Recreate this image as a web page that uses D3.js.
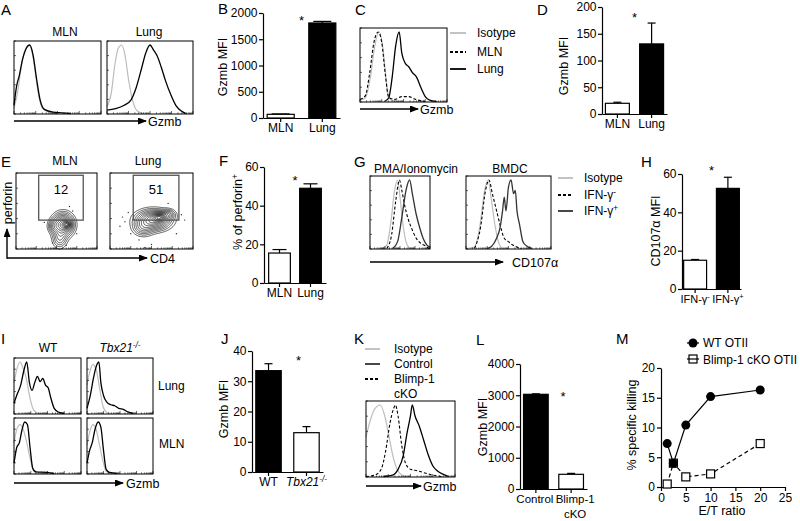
<!DOCTYPE html>
<html><head><meta charset="utf-8">
<script src="https://cdn.jsdelivr.net/npm/d3@7"></script>
<style>
body{margin:0;background:#fff}
svg{display:block}
text{font-family:"Liberation Sans",Arial,Helvetica,sans-serif;fill:#000}
</style>
</head><body>
<svg id="fig" width="800" height="521"></svg>
<script>
// ================= DATA =================
// Histograms: [x = fraction along log axis, y = fraction of peak count]
const aMLNIso    = [[0,0.08],[0.04,0.3],[0.08,0.65],[0.12,0.9],[0.17,1],[0.21,0.88],[0.25,0.55],[0.29,0.22],[0.33,0.07],[0.4,0.02],[0.5,0]];
const aMLNSample = [[0,0.12],[0.03,0.4],[0.06,0.55],[0.1,0.8],[0.14,0.95],[0.18,1],[0.22,0.85],[0.26,0.5],[0.3,0.2],[0.35,0.06],[0.45,0.02],[0.55,0.01],[0.65,0]];
const aLungIso   = [[0,0.1],[0.05,0.3],[0.09,0.7],[0.13,0.95],[0.17,1],[0.21,0.85],[0.25,0.5],[0.3,0.18],[0.35,0.04],[0.42,0]];
const aLungSample= [[0,0.05],[0.1,0.07],[0.2,0.12],[0.28,0.2],[0.34,0.38],[0.4,0.65],[0.45,0.88],[0.5,1],[0.54,0.93],[0.58,0.85],[0.63,0.68],[0.68,0.48],[0.74,0.28],[0.8,0.12],[0.86,0.04],[0.92,0]];

const cIso  = [[0,0.02],[0.06,0.05],[0.12,0.35],[0.17,0.8],[0.22,1],[0.26,0.8],[0.29,0.45],[0.32,0.12],[0.36,0.02],[0.45,0]];
const cMLN  = [[0,0.03],[0.06,0.08],[0.11,0.4],[0.16,0.85],[0.21,1],[0.25,0.85],[0.29,0.4],[0.33,0.06],[0.4,0.03],[0.48,0.07],[0.56,0.07],[0.64,0.03],[0.75,0]];
const cLung = [[0.28,0],[0.33,0.05],[0.37,0.35],[0.41,0.8],[0.45,1],[0.48,0.7],[0.52,0.55],[0.56,0.5],[0.6,0.42],[0.65,0.35],[0.7,0.2],[0.75,0.07],[0.8,0.02],[0.88,0]];

const gPMAIso = [[0.2,0],[0.28,0.05],[0.35,0.4],[0.41,0.85],[0.46,1],[0.5,0.75],[0.55,0.35],[0.6,0.1],[0.66,0]];
const gPMANeg = [[0.28,0],[0.36,0.2],[0.43,0.7],[0.49,1],[0.53,0.85],[0.58,0.62],[0.64,0.42],[0.7,0.28],[0.77,0.15],[0.84,0.08],[0.92,0.04],[0.98,0]];
const gPMAPos = [[0.38,0],[0.46,0.1],[0.53,0.45],[0.6,0.85],[0.66,1],[0.71,0.78],[0.77,0.5],[0.83,0.3],[0.89,0.14],[0.95,0.05],[1,0.02]];
const gDCIso  = [[0,0],[0.1,0.02],[0.16,0.3],[0.22,0.85],[0.26,1],[0.3,0.7],[0.34,0.35],[0.38,0.1],[0.42,0]];
const gDCNeg  = [[0.1,0],[0.17,0.3],[0.23,0.85],[0.27,1],[0.31,0.8],[0.36,0.55],[0.4,0.35],[0.45,0.15],[0.5,0.1],[0.55,0.05],[0.6,0.02],[0.65,0]];
const gDCPos  = [[0.25,0],[0.3,0.03],[0.36,0.15],[0.4,0.3],[0.43,0.55],[0.45,0.75],[0.47,0.55],[0.5,0.9],[0.53,1],[0.56,0.8],[0.58,0.85],[0.6,0.55],[0.63,0.35],[0.67,0.1],[0.72,0.03],[0.78,0]];

const iWTLungIso  = [[0,0.6],[0.04,0.85],[0.09,1],[0.13,0.9],[0.18,0.7],[0.23,0.35],[0.28,0.1],[0.33,0.02],[0.4,0]];
const iWTLung     = [[0,0.2],[0.04,0.35],[0.1,0.55],[0.15,0.85],[0.19,1],[0.23,0.6],[0.27,0.45],[0.31,0.6],[0.35,0.72],[0.39,0.62],[0.43,0.68],[0.47,0.55],[0.51,0.5],[0.55,0.3],[0.6,0.1],[0.66,0.03],[0.75,0]];
const iKOLungIso  = [[0,0.55],[0.04,0.8],[0.09,0.95],[0.14,0.85],[0.19,0.5],[0.24,0.15],[0.3,0.02],[0.35,0]];
const iKOLung     = [[0,0.1],[0.05,0.35],[0.1,0.7],[0.15,0.95],[0.18,1],[0.21,0.6],[0.25,0.35],[0.3,0.22],[0.36,0.17],[0.42,0.15],[0.48,0.1],[0.55,0.08],[0.62,0.03],[0.7,0]];
const iWTMLNIso   = [[0,0.6],[0.04,0.85],[0.09,0.95],[0.14,0.85],[0.19,0.6],[0.24,0.3],[0.29,0.05],[0.35,0]];
const iWTMLN      = [[0,0.2],[0.04,0.5],[0.08,0.6],[0.12,0.85],[0.16,1],[0.2,0.95],[0.24,0.5],[0.28,0.1],[0.33,0.03],[0.5,0.02],[0.55,0.01],[0.6,0]];
const iKOMLNIso   = [[0,0.55],[0.04,0.8],[0.09,0.95],[0.14,0.85],[0.19,0.55],[0.24,0.25],[0.29,0.04],[0.35,0]];
const iKOMLN      = [[0,0.2],[0.04,0.45],[0.08,0.6],[0.12,0.85],[0.17,1],[0.21,0.9],[0.25,0.45],[0.29,0.08],[0.34,0.02],[0.45,0]];

const kIso     = [[0,0.55],[0.04,0.75],[0.1,0.95],[0.16,1],[0.21,0.85],[0.26,0.55],[0.3,0.3],[0.35,0.1],[0.4,0.02],[0.45,0]];
const kBlimp   = [[0,0],[0.1,0.02],[0.17,0.1],[0.22,0.35],[0.27,0.75],[0.31,0.95],[0.33,1],[0.36,0.85],[0.4,0.45],[0.44,0.2],[0.5,0.1],[0.58,0.08],[0.66,0.05],[0.75,0.02],[0.85,0]];
const kControl = [[0.2,0],[0.3,0.02],[0.36,0.1],[0.42,0.3],[0.46,0.6],[0.5,0.85],[0.52,1],[0.55,0.85],[0.6,0.7],[0.65,0.5],[0.7,0.3],[0.75,0.15],[0.8,0.08],[0.87,0.03],[0.93,0]];

// Contour plot density components [cx, cy, sx, sy, weight] (fractions, y from bottom)
const eMLNComps  = [[0.58,0.32,0.07,0.08,1.0],[0.54,0.14,0.05,0.07,0.3],[0.63,0.32,0.03,0.03,0.7],[0.47,0.3,0.04,0.05,0.25]];
const eLungComps = [[0.52,0.38,0.11,0.07,1.0],[0.6,0.42,0.05,0.035,0.8],[0.4,0.28,0.07,0.06,0.3],[0.7,0.45,0.05,0.04,0.3]];
const eMLNDots   = [[0.7,0.5],[0.66,0.56],[0.45,0.08],[0.62,0.05],[0.35,0.35],[0.75,0.2]];
const eLungDots  = [[0.15,0.42],[0.18,0.36],[0.12,0.3],[0.22,0.48],[0.86,0.45],[0.9,0.38],[0.5,0.06],[0.42,0.02],[0.35,0.12],[0.8,0.2],[0.25,0.2],[0.7,0.6]];
const eGate = [0.28, 0.83, 0.38, 0.97]; // x0,x1,y0,y1 fractions
const ePercents = ["12", "51"];

// Bar charts
const bCats = ["MLN","Lung"], bMeans = [70,1810], bErr = [8,30], bTicks = [0,500,1000,1500,2000];
const dCats = ["MLN","Lung"], dMeans = [20,131], dErr = [2,39], dTicks = [0,50,100,150,200];
const fCats = ["MLN","Lung"], fMeans = [15.5,49], fErr = [1.8,2.3], fTicks = [0,20,40,60];
const hCats = ["IFN-γ^{-}","IFN-γ^{+}"], hMeans = [15,52.5], hErr = [0.4,5.8], hTicks = [0,20,40,60];
const jCats = ["WT","~Tbx21^{-/-}"], jMeans = [33.5,13], jErr = [2.3,2], jTicks = [0,10,20,30,40];
const lCats = ["Control","Blimp-1|cKO"], lMeans = [3030,470], lErr = [15,30], lTicks = [0,1000,2000,3000,4000];

// Killing assay
const mRatio = [1.25,2.5,5,10,20];
const mWT = [7.3,4.0,10.4,15.2,16.3];
const mKO = [0.5,4.0,1.7,2.2,7.3];
const mXTicks = [0,5,10,15,20,25], mYTicks = [0,5,10,15,20];

// ================= DRAWING =================
const svg = d3.select("#fig");
svg.append("rect").attr("width",800).attr("height",521).attr("fill","#fff");
svg.append("defs").append("marker").attr("id","ah")
  .attr("viewBox","0 0 9 7").attr("refX",8).attr("refY",3.5)
  .attr("markerWidth",9).attr("markerHeight",7).attr("markerUnits","userSpaceOnUse")
  .attr("orient","auto").append("path").attr("d","M0,0L9,3.5L0,7Z").attr("fill","#000");

function rich(t, s){
  if (s[0]==="~"){ t.style("font-style","italic"); s = s.slice(1); }
  s.split(/(\^\{[^}]*\})/).forEach(p=>{
    if(!p) return;
    if(p.startsWith("^{")) t.append("tspan").attr("dy","-0.5em").attr("font-size","0.68em").text(p.slice(2,-1));
    else t.append("tspan").text(p);
  });
}
function txt(x,y,s,o={}){
  const t = svg.append("text").attr("x",x).attr("y",y)
    .attr("font-size",o.size||12).attr("text-anchor",o.anchor||"start");
  if(o.rot) t.attr("transform",`rotate(-90,${x},${y})`);
  rich(t,s); return t;
}
function letter(x,y,s){ txt(x,y,s,{size:15}); }
function arrow(x1,y1,x2,y2){
  svg.append("line").attr("x1",x1).attr("y1",y1).attr("x2",x2).attr("y2",y2)
    .attr("stroke","#000").attr("stroke-width",1.4).attr("marker-end","url(#ah)");
}
const styles = {
  iso:  {stroke:"#bdbdbd", w:1.2, dash:null},
  solid:{stroke:"#000", w:1.3, dash:null},
  dark: {stroke:"#333", w:1.3, dash:null},
  dash: {stroke:"#000", w:1.1, dash:"3,2"}
};
const fmt = d3.format("d");
function styleAxis(a){
  a.selectAll("path,line").attr("stroke","#000").attr("stroke-width",1.2);
  a.selectAll("text").attr("font-size",12).attr("font-family",'"Liberation Sans",Arial,sans-serif').attr("fill","#000");
}
function boxTicks(g,x,y,w,h){
  const lg = d3.scaleLog().domain([1,10000]).range([x,x+w]);
  lg.ticks().forEach(v=>{
    const dec = Math.abs(Math.log10(v)-Math.round(Math.log10(v)))<1e-9;
    g.append("line").attr("x1",lg(v)).attr("x2",lg(v)).attr("y1",y+h).attr("y2",y+h-(dec?3:1.6))
      .attr("stroke","#000").attr("stroke-width",0.6);
  });
  d3.scaleLinear().domain([0,1]).range([y+h,y]).ticks(6).forEach(v=>{
    const yy = y+h-(h*v);
    g.append("line").attr("x1",x).attr("x2",x+2).attr("y1",yy).attr("y2",yy)
      .attr("stroke","#000").attr("stroke-width",0.6);
  });
}
function histBox(x,y,w,h,curves){
  const g = svg.append("g");
  const xs = d3.scaleLinear().domain([0,1]).range([x,x+w]);
  const ys = d3.scaleLinear().domain([0,1]).range([y+h-0.5,y+4]);
  const line = d3.line().x(d=>xs(d[0])).y(d=>ys(d[1])).curve(d3.curveMonotoneX);
  curves.forEach(c=>{
    const st = styles[c[1]];
    g.append("path").attr("d",line(c[0])).attr("fill","none")
      .attr("stroke",st.stroke).attr("stroke-width",st.w).attr("stroke-dasharray",st.dash);
  });
  boxTicks(g,x,y,w,h);
  g.append("rect").attr("x",x).attr("y",y).attr("width",w).attr("height",h)
    .attr("fill","none").attr("stroke","#000").attr("stroke-width",1);
}
function contourBox(x,y,w,h,comps,dots,gate,pct){
  const g = svg.append("g");
  const nx = Math.round(w), ny = Math.round(h);
  const vals = new Float64Array(nx*ny);
  for(let j=0;j<ny;j++) for(let i=0;i<nx;i++){
    const fx=(i+0.5)/nx, fy=1-(j+0.5)/ny;
    let s=0; comps.forEach(c=>{ s += c[4]*Math.exp(-((fx-c[0])**2/(2*c[2]*c[2]) + (fy-c[1])**2/(2*c[3]*c[3]))); });
    vals[j*nx+i]=s;
  }
  const mx = d3.max(vals);
  const levels = [0.03,0.06,0.1,0.15,0.21,0.28,0.36,0.45,0.54,0.63,0.72,0.8,0.88,0.95].map(v=>v*mx);
  const cs = d3.contours().size([nx,ny]).thresholds(levels)(vals);
  g.append("g").attr("transform",`translate(${x},${y}) scale(${w/nx},${h/ny})`)
    .selectAll("path").data(cs).join("path").attr("d",d3.geoPath())
    .attr("fill","none").attr("stroke","#111").attr("stroke-width",0.7).attr("vector-effect","non-scaling-stroke");
  const xs = d3.scaleLinear().domain([0,1]).range([x,x+w]);
  const ys = d3.scaleLinear().domain([0,1]).range([y+h,y]);
  g.selectAll("circle").data(dots).join("circle").attr("cx",d=>xs(d[0])).attr("cy",d=>ys(d[1])).attr("r",0.7).attr("fill","#333");
  g.append("rect").attr("x",xs(gate[0])).attr("y",ys(gate[3])).attr("width",xs(gate[1])-xs(gate[0])).attr("height",ys(gate[2])-ys(gate[3]))
    .attr("fill","none").attr("stroke","#555").attr("stroke-width",1.3);
  boxTicks(g,x,y,w,h);
  g.append("rect").attr("x",x).attr("y",y).attr("width",w).attr("height",h)
    .attr("fill","none").attr("stroke","#000").attr("stroke-width",1);
  txt((xs(gate[0])+xs(gate[1]))/2, ys(gate[3])+19, pct, {size:13, anchor:"middle"});
}
function barPanel(o){
  const g = svg.append("g");
  const x = d3.scaleBand().domain(o.cats).range([o.x0,o.x1]).paddingInner(o.pi).paddingOuter(o.po);
  const y = d3.scaleLinear().domain([0,o.ticks[o.ticks.length-1]]).range([o.yB,o.yT]);
  const ya = g.append("g").attr("transform",`translate(${o.x0},0)`)
    .call(d3.axisLeft(y).tickValues(o.ticks).tickFormat(fmt).tickSize(4).tickSizeOuter(0).tickPadding(1.5));
  const xa = g.append("g").attr("transform",`translate(0,${o.yB})`)
    .call(d3.axisBottom(x).tickSize(4).tickSizeOuter(0).tickFormat(""));
  styleAxis(ya); styleAxis(xa);
  const cw = (o.capW||8)/2;
  o.cats.forEach((c,i)=>{
    const bx = x(c), bw = x.bandwidth(), cx = bx+bw/2;
    g.append("line").attr("x1",cx).attr("x2",cx).attr("y1",y(o.means[i])).attr("y2",y(o.means[i]+o.errs[i])).attr("stroke","#000").attr("stroke-width",1.2);
    g.append("line").attr("x1",cx-cw).attr("x2",cx+cw).attr("y1",y(o.means[i]+o.errs[i])).attr("y2",y(o.means[i]+o.errs[i])).attr("stroke","#000").attr("stroke-width",1.2);
    g.append("rect").attr("x",bx).attr("y",y(o.means[i])).attr("width",bw).attr("height",y(0)-y(o.means[i]))
      .attr("fill",o.fills[i]).attr("stroke","#000").attr("stroke-width",1.2);
    const dx = o.catDx ? o.catDx[i] : 0;
    c.split("|").forEach((ln,k)=> txt(cx+dx, o.yB+14+k*15, ln, {anchor:"middle", size:o.catSize||12}));
  });
  const sx = o.starBand==null ? (x(o.cats[0])+x(o.cats[1])+x.bandwidth())/2 : x(o.cats[o.starBand])+x.bandwidth()/2+o.starDx;
  txt(sx, y(o.starY)+7, "*", {anchor:"middle", size:13});
  txt(o.lx, o.ly, o.ylabel, {rot:true, anchor:"middle", size:12.5});
}

// ---------- Panel A ----------
letter(1,15,"A");
txt(65,36,"MLN",{anchor:"middle"}); txt(149,36,"Lung",{anchor:"middle"});
histBox(14,41,87,73,[[aMLNIso,"iso"],[aMLNSample,"solid"]]);
histBox(107,41,86,73,[[aLungIso,"iso"],[aLungSample,"solid"]]);
arrow(14,121,146,121); txt(148,126,"Gzmb",{size:12.5});

// ---------- Panel B ----------
letter(218,14,"B");
barPanel({cats:bCats,means:bMeans,errs:bErr,ticks:bTicks,fills:["#fff","#000"],x0:263,x1:340,yB:118,yT:13,pi:0.35,po:0.1,
  starY:1905,ylabel:"Gzmb MFI",lx:227,ly:67,capW:18});

// ---------- Panel C ----------
letter(355,15,"C");
histBox(360,28,87,74,[[cIso,"iso"],[cMLN,"dash"],[cLung,"solid"]]);
arrow(360,109,418,109); txt(420,114,"Gzmb",{size:12.5});
[["Isotype","iso",33],["MLN","dash",52],["Lung","solid",69]].forEach(r=>{
  const st=styles[r[1]];
  svg.append("line").attr("x1",450).attr("x2",466).attr("y1",r[2]).attr("y2",r[2]).attr("stroke",st.stroke).attr("stroke-width",1.8).attr("stroke-dasharray",st.dash);
  txt(477,r[2]+4,r[0]);
});

// ---------- Panel D ----------
letter(537,15,"D");
barPanel({cats:dCats,means:dMeans,errs:dErr,ticks:dTicks,fills:["#fff","#000"],x0:602,x1:667,yB:114,yT:7,pi:0.3,po:0.1,
  starY:185,ylabel:"Gzmb MFI",lx:568,ly:66});

// ---------- Panel E ----------
letter(1,167,"E");
txt(65,165,"MLN",{anchor:"middle"}); txt(148,165,"Lung",{anchor:"middle"});
contourBox(16,173,81,76,eMLNComps,eMLNDots,eGate,ePercents[0]);
contourBox(110,173,83,76,eLungComps,eLungDots,eGate,ePercents[1]);
svg.append("line").attr("x1",7).attr("y1",258).attr("x2",147).attr("y2",258).attr("stroke","#000").attr("stroke-width",1.4).attr("marker-end","url(#ah)");
svg.append("line").attr("x1",7).attr("y1",258.7).attr("x2",7).attr("y2",229).attr("stroke","#000").attr("stroke-width",1.4).attr("marker-end","url(#ah)");
txt(12,203,"perforin",{rot:true,anchor:"middle",size:12.5});
txt(150,263,"CD4",{size:12.5});

// ---------- Panel F ----------
letter(219,166,"F");
barPanel({cats:fCats,means:fMeans,errs:fErr,ticks:fTicks,fills:["#fff","#000"],x0:264,x1:326,yB:283,yT:167,pi:0.3,po:0.15,
  starY:54.3,ylabel:"% of perforin^{+}",lx:242,ly:212,capW:14});

// ---------- Panel G ----------
letter(354,167,"G");
txt(416,173,"PMA/Ionomycin",{anchor:"middle"}); txt(510,173,"BMDC",{anchor:"middle"});
histBox(370,176,60,73,[[gPMAIso,"iso"],[gPMANeg,"dash"],[gPMAPos,"dark"]]);
histBox(466,176,85,73,[[gDCIso,"iso"],[gDCNeg,"dash"],[gDCPos,"dark"]]);
arrow(370,262,503,262); txt(512,267,"CD107α",{size:12.5});
[["Isotype","iso",178],["IFN-γ^{-}","dash",195],["IFN-γ^{+}","dark",211]].forEach(r=>{
  const st=styles[r[1]];
  svg.append("line").attr("x1",558).attr("x2",573).attr("y1",r[2]).attr("y2",r[2]).attr("stroke",st.stroke).attr("stroke-width",1.8).attr("stroke-dasharray",st.dash);
  txt(584,r[2]+4,r[0]);
});

// ---------- Panel H ----------
letter(641,167,"H");
barPanel({cats:hCats,means:hMeans,errs:hErr,ticks:hTicks,fills:["#fff","#000"],x0:682,x1:741,yB:289,yT:174,pi:0.3,po:0.05,
  starY:63,ylabel:"CD107α MFI",lx:660,ly:231,catSize:11});

// ---------- Panel I ----------
letter(1,344,"I");
txt(48,352,"WT",{anchor:"middle"}); txt(120,352,"~Tbx21^{-/-}",{anchor:"middle"});
histBox(14,358,67,56,[[iWTLungIso,"iso"],[iWTLung,"solid"]]);
histBox(87,358,66,56,[[iKOLungIso,"iso"],[iKOLung,"solid"]]);
histBox(14,418,67,56,[[iWTMLNIso,"iso"],[iWTMLN,"solid"]]);
histBox(87,418,66,56,[[iKOMLNIso,"iso"],[iKOMLN,"solid"]]);
txt(158,390,"Lung"); txt(159,448,"MLN");
arrow(14,483,123,483); txt(126,488,"Gzmb",{size:12.5});

// ---------- Panel J ----------
letter(221,344,"J");
barPanel({cats:jCats,means:jMeans,errs:jErr,ticks:jTicks,fills:["#000","#fff"],x0:252,x1:323,yB:472,yT:351,pi:0.33,po:0.1,
  starY:37.7,starBand:1,starDx:-8,ylabel:"Gzmb MFI",lx:228,ly:409});

// ---------- Panel K ----------
letter(354,344,"K");
[["Isotype","iso",349],["Control","dark",364],["Blimp-1","dash",379]].forEach(r=>{
  const st=styles[r[1]];
  svg.append("line").attr("x1",365).attr("x2",380).attr("y1",r[2]).attr("y2",r[2]).attr("stroke",st.stroke).attr("stroke-width",1.8).attr("stroke-dasharray",st.dash);
  txt(394,r[2]+4,r[0]);
});
txt(394,398,"cKO");
histBox(366,401,89,76,[[kIso,"iso"],[kBlimp,"dash"],[kControl,"solid"]]);
arrow(366,486,421,486); txt(423,491,"Gzmb",{size:12.5});

// ---------- Panel L ----------
letter(476,345,"L");
barPanel({cats:lCats,means:lMeans,errs:lErr,ticks:lTicks,fills:["#000","#fff"],x0:520,x1:587,yB:489,yT:364,pi:0.3,po:0.1,
  starY:3040,starBand:1,starDx:-8,ylabel:"Gzmb MFI",lx:487,ly:427,catSize:11.5,catDx:[-1,4]});

// ---------- Panel M ----------
letter(616,344,"M");
{
  const g = svg.append("g");
  const x = d3.scaleLinear().domain([0,25]).range([661,785]);
  const y = d3.scaleLinear().domain([0,20]).range([487,368]);
  const xa = g.append("g").attr("transform","translate(0,487)").call(d3.axisBottom(x).tickValues(mXTicks).tickFormat(fmt).tickSize(4).tickSizeOuter(0).tickPadding(2));
  const ya = g.append("g").attr("transform","translate(661,0)").call(d3.axisLeft(y).tickValues(mYTicks).tickFormat(fmt).tickSize(4).tickSizeOuter(0).tickPadding(2));
  styleAxis(xa); styleAxis(ya);
  const pts = (ys)=> mRatio.map((r,i)=>[x(r),y(ys[i])]);
  g.append("path").attr("d",d3.line()(pts(mKO))).attr("fill","none").attr("stroke","#000").attr("stroke-width",1.2).attr("stroke-dasharray","4,3");
  g.append("path").attr("d",d3.line()(pts(mWT))).attr("fill","none").attr("stroke","#000").attr("stroke-width",1.2);
  g.selectAll("rect.ko").data(pts(mKO)).join("rect").attr("x",d=>d[0]-4).attr("y",d=>d[1]-4).attr("width",8).attr("height",8)
    .attr("fill","#fff").attr("stroke","#000").attr("stroke-width",1.2);
  g.selectAll("circle.wt").data(pts(mWT)).join("circle").attr("cx",d=>d[0]).attr("cy",d=>d[1]).attr("r",4.5).attr("fill","#000");
  // legend
  g.append("line").attr("x1",687).attr("x2",699).attr("y1",343).attr("y2",343).attr("stroke","#000").attr("stroke-width",1.2);
  g.append("circle").attr("cx",693).attr("cy",343).attr("r",4.5).attr("fill","#000");
  g.append("line").attr("x1",687).attr("x2",699).attr("y1",359).attr("y2",359).attr("stroke","#000").attr("stroke-width",1.2);
  g.append("rect").attr("x",689).attr("y",355).attr("width",8).attr("height",8).attr("fill","none").attr("stroke","#000").attr("stroke-width",1.2);
  txt(703,347,"WT OTII"); txt(703,364,"Blimp-1 cKO OTII");
  txt(722,515,"E/T ratio",{anchor:"middle",size:12.5});
  txt(636,425,"% specific killing",{rot:true,anchor:"middle",size:12.5});
}
</script>
</body></html>
